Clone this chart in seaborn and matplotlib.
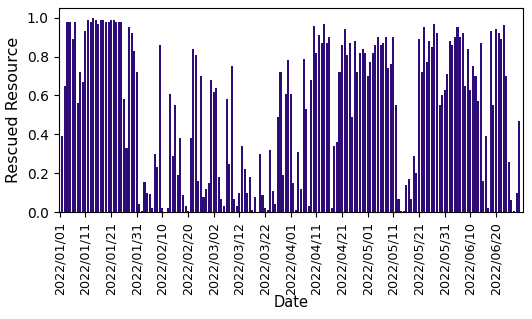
import pandas as pd
import matplotlib
matplotlib.use("Agg")
import matplotlib.pyplot as plt
import seaborn as sns

# one value per day, 2022/01/01 .. 2022/06/30
dates = pd.date_range("2022-01-01", "2022-06-30", freq="D").strftime("%Y/%m/%d")

rescued = [
    0.00, 0.39, 0.65, 0.98, 0.98, 0.89, 0.98, 0.56, 0.72, 0.67,
    0.93, 0.99, 0.98, 1.00, 0.99, 0.97, 0.99, 0.99, 0.98, 0.98,
    0.99, 0.99, 0.98, 0.98, 0.98, 0.58, 0.33, 0.95, 0.92, 0.83,
    0.72, 0.04, 0.005, 0.155, 0.10, 0.095, 0.02, 0.30, 0.23, 0.86,
    0.02, 0.00, 0.02, 0.61, 0.29, 0.55, 0.19, 0.38, 0.09, 0.03,
    0.005, 0.38, 0.84, 0.81, 0.16, 0.70, 0.08, 0.12, 0.15, 0.68,
    0.62, 0.64, 0.18, 0.07, 0.03, 0.58, 0.25, 0.75, 0.07, 0.03,
    0.10, 0.34, 0.22, 0.10, 0.18, 0.01, 0.08, 0.00, 0.30, 0.09,
    0.02, 0.01, 0.32, 0.11, 0.04, 0.49, 0.72, 0.19, 0.61, 0.78,
    0.61, 0.15, 0.01, 0.31, 0.12, 0.79, 0.53, 0.03, 0.68, 0.955,
    0.82, 0.91, 0.87, 0.97, 0.87, 0.90, 0.02, 0.34, 0.36, 0.72,
    0.86, 0.94, 0.81, 0.87, 0.49, 0.88, 0.72, 0.82, 0.84, 0.82,
    0.70, 0.77, 0.82, 0.86, 0.90, 0.86, 0.87, 0.90, 0.74, 0.76,
    0.90, 0.55, 0.07, 0.005, 0.005, 0.14, 0.17, 0.07, 0.29, 0.20,
    0.89, 0.72, 0.95, 0.77, 0.88, 0.85, 0.97, 0.92, 0.55, 0.60,
    0.63, 0.71, 0.88, 0.86, 0.90, 0.95, 0.90, 0.92, 0.65, 0.84,
    0.63, 0.75, 0.70, 0.57, 0.87, 0.16, 0.39, 0.02, 0.93, 0.55,
    0.94, 0.92, 0.89, 0.96, 0.70, 0.26, 0.06, 0.005, 0.10, 0.47,
    0.00,
]

df = pd.DataFrame({"Date": dates, "Rescued Resource": rescued})

fig, ax = plt.subplots(figsize=(5.32, 3.19), dpi=100)
sns.barplot(data=df, x="Date", y="Rescued Resource", color="#2d0c7a",
            saturation=1, ax=ax)

# label every 10th day only (last day has no label in the original)
tick_pos = list(range(0, len(df) - 1, 10))
ax.set_xticks(tick_pos)
ax.set_xticklabels([df["Date"][i] for i in tick_pos], rotation=90, fontsize=9.2)
ax.tick_params(axis="y", labelsize=10)
ax.set_xlabel("Date", fontsize=10.5, labelpad=0)
ax.set_ylabel("Rescued Resource", fontsize=11.5)

fig.subplots_adjust(left=0.11, right=0.983, top=0.975, bottom=0.335)
fig.savefig("out.png", dpi=100)
